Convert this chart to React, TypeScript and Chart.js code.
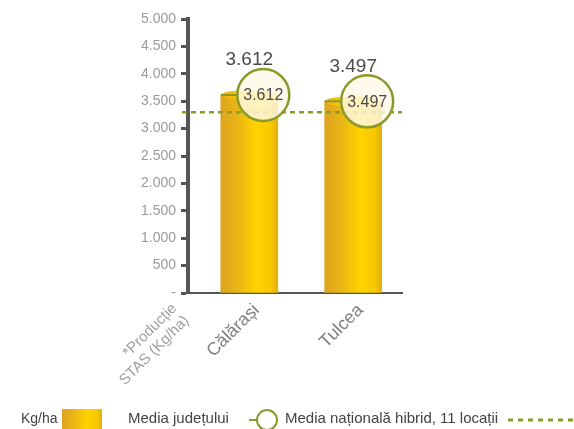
import React, { useEffect, useRef } from "react";
import { Chart, registerables } from "chart.js";

Chart.register(...registerables);

// ---- data ----
const categories = ["Călărași", "Tulcea"];
const axisNote = ["*Producție", "STAS (Kg/ha)"];
const yields = [3612, 3497];
const countyAvg = [3612, 3497];
const nationalAvg = [3300];
const yMax = 5000;
const yStep = 500;
const legendLabels = ["Kg/ha", "Media județului", "Media națională hibrid, 11 locații"];

// ---- style ----
const FONT = "'Liberation Sans', Arial, Helvetica, sans-serif";
const OLIVE = "#8a9a2b";
const AXIS = "#555555";
const BAR_W = 57;
const CIRCLE_R = 26;
const CIRCLE_DX = 14;
const NOTE_POS = -0.72;
const LABEL_SHIFT = 0.07;

const fmt = (v: number) =>
  v === 0 ? "-" : String(Math.round(v)).replace(/\B(?=(\d{3})+(?!\d))/g, ".");

function barGradient(ctx: CanvasRenderingContext2D, x0: number, x1: number) {
  const g = ctx.createLinearGradient(x0, 0, x1, 0);
  g.addColorStop(0, "#dca41f");
  g.addColorStop(0.3, "#eab615");
  g.addColorStop(0.62, "#ffd300");
  g.addColorStop(0.88, "#f8c800");
  g.addColorStop(1, "#e4ac12");
  return g;
}

const decorPlugin = {
  id: "decor",
  afterDatasetsDraw(chart: any) {
    const { ctx, chartArea, scales } = chart;
    const xs = scales.x;
    const ys = scales.y;
    const meta = chart.getDatasetMeta(0);
    ctx.save();
    // cylinder tops
    meta.data.forEach((bar: any) => {
      const cx = bar.x;
      const cy = bar.y;
      const g = ctx.createLinearGradient(cx - BAR_W / 2, 0, cx + BAR_W / 2, 0);
      g.addColorStop(0, "#eeb010");
      g.addColorStop(0.5, "#ffd400");
      g.addColorStop(1, "#ffdb2a");
      ctx.fillStyle = g;
      ctx.beginPath();
      ctx.ellipse(cx, cy, BAR_W / 2, 5, 0, 0, Math.PI * 2);
      ctx.fill();
    });
    // national average dashed line
    const ny = ys.getPixelForValue(nationalAvg[0]);
    ctx.strokeStyle = OLIVE;
    ctx.lineWidth = 2.5;
    ctx.setLineDash([5, 4]);
    ctx.beginPath();
    ctx.moveTo(chartArea.left - 6, ny);
    ctx.lineTo(chartArea.right, ny);
    ctx.stroke();
    ctx.setLineDash([]);
    // county average markers
    countyAvg.forEach((v, i) => {
      const bx = xs.getPixelForValue(i);
      const cx = bx + CIRCLE_DX;
      const cy = ys.getPixelForValue(v);
      ctx.strokeStyle = OLIVE;
      ctx.lineWidth = 2;
      ctx.beginPath();
      ctx.moveTo(bx - BAR_W / 2, cy);
      ctx.lineTo(cx - CIRCLE_R, cy);
      ctx.stroke();
      ctx.fillStyle = "rgba(255,249,230,0.82)";
      ctx.lineWidth = 2.5;
      ctx.beginPath();
      ctx.arc(cx, cy, CIRCLE_R, 0, Math.PI * 2);
      ctx.fill();
      ctx.stroke();
      ctx.fillStyle = "#4a4a4a";
      ctx.font = `16px ${FONT}`;
      ctx.textAlign = "center";
      ctx.textBaseline = "middle";
      ctx.fillText(fmt(v), cx, cy + 1);
    });
    // value labels above bars
    meta.data.forEach((bar: any, i: number) => {
      ctx.fillStyle = "#4a4a4a";
      ctx.font = `19px ${FONT}`;
      ctx.textAlign = "center";
      ctx.textBaseline = "middle";
      ctx.fillText(fmt(yields[i]), bar.x, bar.y - 35);
    });
    // legend
    const ly = 419;
    ctx.textAlign = "left";
    ctx.textBaseline = "middle";
    ctx.fillStyle = "#444444";
    ctx.font = `14px ${FONT}`;
    ctx.fillText(legendLabels[0], 21, ly);
    ctx.fillStyle = barGradient(ctx, 62, 102);
    ctx.fillRect(62, 409, 40, 20);
    ctx.font = `15px ${FONT}`;
    ctx.fillStyle = "#444444";
    ctx.fillText(legendLabels[1], 128, ly);
    ctx.strokeStyle = OLIVE;
    ctx.lineWidth = 2;
    ctx.beginPath();
    ctx.moveTo(249, ly + 1);
    ctx.lineTo(257, ly + 1);
    ctx.stroke();
    ctx.beginPath();
    ctx.arc(267, ly + 1, 10, 0, Math.PI * 2);
    ctx.stroke();
    ctx.fillStyle = "#444444";
    ctx.fillText(legendLabels[2], 285, ly);
    ctx.lineWidth = 3;
    ctx.setLineDash([5, 5]);
    ctx.beginPath();
    ctx.moveTo(508, ly + 1);
    ctx.lineTo(574, ly + 1);
    ctx.stroke();
    ctx.setLineDash([]);
    ctx.restore();
  },
};

export default function App() {
  const ref = useRef<HTMLCanvasElement>(null);
  useEffect(() => {
    if (!ref.current) return;
    Chart.defaults.font.family = FONT;
    const chart = new Chart(ref.current, {
      type: "bar",
      data: {
        datasets: [
          {
            label: legendLabels[0],
            data: yields.map((v, i) => ({ x: i, y: v })),
            barThickness: BAR_W,
            backgroundColor: (c: any) => {
              const ch = c.chart;
              if (!ch.chartArea || c.dataIndex == null) return "#f5c200";
              const cx = ch.scales.x.getPixelForValue(c.dataIndex);
              return barGradient(ch.ctx, cx - BAR_W / 2, cx + BAR_W / 2);
            },
            borderWidth: 0,
          },
        ],
      },
      plugins: [decorPlugin],
      options: {
        animation: false,
        responsive: false,
        events: [],
        layout: { padding: { top: 19, right: 172, left: 0, bottom: 0 } },
        plugins: { legend: { display: false }, tooltip: { enabled: false } },
        scales: {
          x: {
            type: "linear",
            min: -0.59,
            max: 1.47,
            offset: false,
            afterBuildTicks: (scale: any) => {
              scale.ticks = [
                { value: NOTE_POS },
                ...categories.map((_c, i) => ({ value: i + LABEL_SHIFT })),
              ];
            },
            afterFit: (scale: any) => {
              scale.height = 136;
            },
            grid: { display: true, drawOnChartArea: false, drawTicks: false, offset: false },
            border: { display: true, color: AXIS, width: 2 },
            ticks: {
              autoSkip: false,
              minRotation: 45,
              maxRotation: 45,
              padding: 7,
              color: (c: any) => (c.index === 0 ? "#a0a0a0" : "#808080"),
              font: (c: any) => ({ size: c.index === 0 ? 15 : 18, family: FONT, lineHeight: 1.15 }),
              callback: (_v: any, i: number) => (i === 0 ? axisNote : categories[i - 1]),
            },
          },
          y: {
            min: 0,
            max: yMax,
            afterFit: (scale: any) => {
              scale.width = 188;
            },
            grid: {
              display: true,
              drawOnChartArea: false,
              drawTicks: true,
              tickLength: 7,
              tickWidth: 3,
              tickColor: AXIS,
            },
            border: { display: true, color: AXIS, width: 4 },
            ticks: {
              stepSize: yStep,
              padding: 5,
              color: "#9a9a9a",
              font: { size: 14, family: FONT },
              callback: (v: any) => fmt(Number(v)),
            },
          },
        },
      } as any,
    });
    return () => chart.destroy();
  }, []);
  return (
    <div style={{ position: "absolute", left: 0, top: 0, width: 574, height: 429, background: "#fff" }}>
      <canvas ref={ref} width={574} height={429} style={{ display: "block" }} />
    </div>
  );
}
